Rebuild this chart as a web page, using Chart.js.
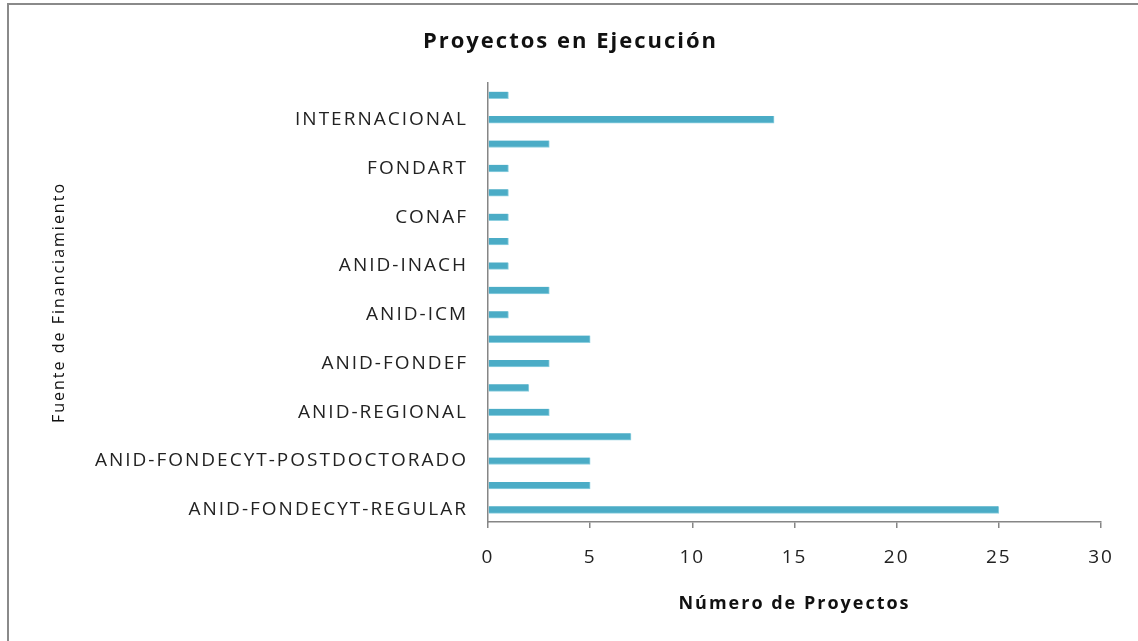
<!DOCTYPE html>
<html>
<head>
<meta charset="utf-8">
<script src="https://cdn.jsdelivr.net/npm/chart.js@4/dist/chart.umd.min.js"></script>
<style>
  html, body { margin: 0; padding: 0; background: #fff; }
  #wrap { position: relative; width: 1138px; height: 641px; overflow: hidden; }
  #frame { position: absolute; left: 7px; top: 3px; width: 1200px; height: 700px;
           border-top: 2px solid #8a8a8a; border-left: 2px solid #8a8a8a; }
  canvas { position: absolute; left: 0; top: 0; }
</style>
</head>
<body>
<div id="wrap">
  <div id="frame"></div>
  <canvas id="projectsChart" width="1138" height="641"></canvas>
</div>
<script>
  // categories listed bottom to top, only every other one is labelled in the source
  const sources = [
    "ANID-FONDECYT-REGULAR", "",
    "ANID-FONDECYT-POSTDOCTORADO", "",
    "ANID-REGIONAL", "",
    "ANID-FONDEF", "",
    "ANID-ICM", "",
    "ANID-INACH", "",
    "CONAF", "",
    "FONDART", "",
    "INTERNACIONAL", "",
  ];
  const projectCounts = [25, 5, 5, 7, 3, 2, 3, 5, 1, 3, 1, 1, 1, 1, 1, 3, 14, 1];
  const xTicks = [0, 5, 10, 15, 20, 25, 30];

  const axisColor = "#868686";
  const fontFamily = "'Open Sans', sans-serif";
  const labelFont = { family: fontFamily, size: 19 };

  // the source text is drawn wide, so spread the letters a little
  const wideText = {
    id: "wideText",
    beforeDraw: (chart) => {
      chart.ctx.letterSpacing = "2px";
    },
  };

  const ctx = document.getElementById("projectsChart").getContext("2d");
  new Chart(ctx, {
    type: "bar",
    data: {
      labels: sources,
      datasets: [
        {
          label: "Número de Proyectos",
          data: projectCounts,
          backgroundColor: "#4bacc6",
          borderColor: "#8fd0e0",
          borderWidth: { top: 0, bottom: 1, left: 0, right: 1 },
          borderSkipped: false,
          barThickness: 7,
        },
      ],
    },
    plugins: [wideText],
    options: {
      indexAxis: "y",
      responsive: false,
      animation: false,
      layout: {
        padding: { left: 40, right: 37, top: 0, bottom: 0 },
      },
      plugins: {
        legend: { display: false },
        tooltip: { enabled: false },
        title: {
          display: true,
          text: "Proyectos en Ejecución",
          color: "#111",
          font: { family: fontFamily, size: 22, weight: "bold" },
          padding: { top: 29, bottom: 27.6 },
        },
      },
      scales: {
        x: {
          min: 0,
          max: 30,
          afterBuildTicks: (scale) => {
            scale.ticks = xTicks.map((v) => ({ value: v }));
          },
          afterFit: (scale) => {
            scale.height = 119;
          },
          grid: {
            drawOnChartArea: false,
            drawTicks: true,
            tickLength: 6,
            color: axisColor,
            lineWidth: 1.5,
          },
          border: { display: true, color: axisColor, width: 1.5 },
          ticks: {
            color: "#222",
            font: labelFont,
            padding: 18,
            maxRotation: 0,
          },
          title: {
            display: true,
            text: "Número de Proyectos",
            color: "#111",
            font: { family: fontFamily, size: 18, weight: "bold" },
            padding: { top: 0, bottom: 26 },
          },
        },
        y: {
          reverse: true,
          afterFit: (scale) => {
            scale.width = 448;
          },
          grid: {
            drawOnChartArea: false,
            drawTicks: false,
          },
          border: { display: true, color: axisColor, width: 1.5 },
          ticks: {
            autoSkip: false,
            color: "#222",
            font: labelFont,
            padding: 20,
          },
          title: {
            display: true,
            text: "Fuente de Financiamiento",
            color: "#111",
            font: { family: fontFamily, size: 16 },
            padding: { top: 10, bottom: 0 },
          },
        },
      },
    },
  });
</script>
</body>
</html>
